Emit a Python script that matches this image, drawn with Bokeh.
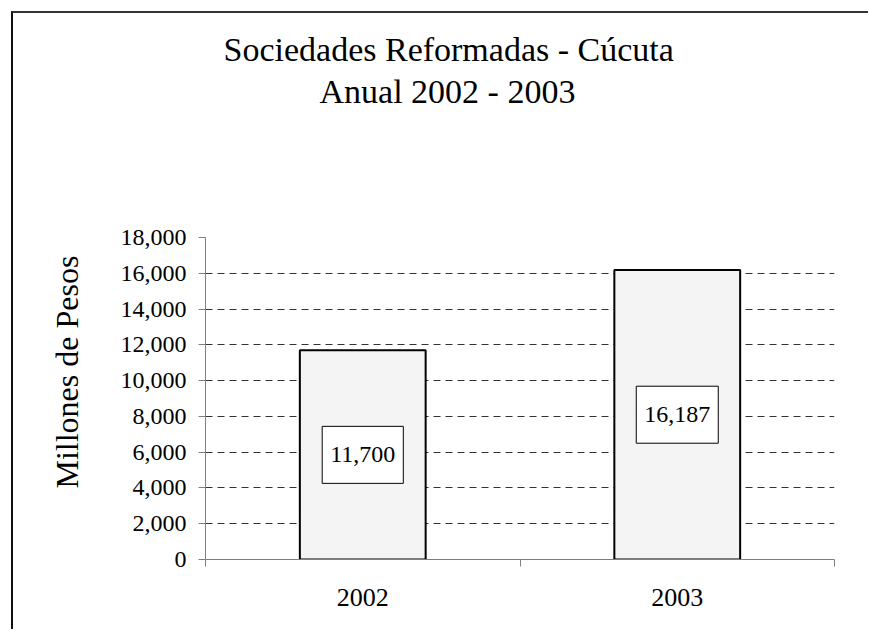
from bokeh.plotting import figure
from bokeh.models import Range1d, FixedTicker, NumeralTickFormatter, Label, LinearAxis, Grid, Title
from bokeh.embed import file_html
from bokeh.resources import INLINE

# ---- data ----
years = ["2002", "2003"]
values = [11700, 16187]
y_ticks = [0, 2000, 4000, 6000, 8000, 10000, 12000, 14000, 16000, 18000]
title_lines = ["Sociedades Reformadas - Cúcuta", "Anual  2002 - 2003"]
y_title = "Millones de Pesos"

FONT = "Liberation Serif"

xs = [i + 0.5 for i in range(len(years))]

p = figure(
    output_backend="svg",
    toolbar_location=None,
    x_range=Range1d(0, len(years)),
    y_range=Range1d(y_ticks[0], y_ticks[-1]),
    frame_width=629,
    frame_height=322,
    min_border_left=192,
    min_border_right=34,
    min_border_top=224,
    min_border_bottom=70,
    x_axis_type=None,
    y_axis_type=None,
)
p.title.visible = False
p.outline_line_color = None
p.background_fill_color = "white"
p.border_fill_color = "white"
p.styles = {
    "margin-left": "11px",
    "margin-top": "11px",
    "border-left": "2px solid #111111",
    "border-top": "2px solid #333333",
}

# blank spacer between the plot frame and the two title lines
p.add_layout(Title(text=" ", text_font_size="10px", standoff=113), "above")
# titles: second line first (nearer the frame), then first line above it
p.add_layout(Title(
    text=title_lines[1], align="left", offset=114,
    text_font=FONT, text_font_size="34px", text_font_style="normal",
    text_color="black", standoff=3,
), "above")
p.add_layout(Title(
    text=title_lines[0], align="left", offset=18,
    text_font=FONT, text_font_size="34px", text_font_style="normal",
    text_color="black", standoff=3,
), "above")

# y axis
yaxis = LinearAxis(
    ticker=FixedTicker(ticks=y_ticks, minor_ticks=[]),
    formatter=NumeralTickFormatter(format="0,0"),
)
yaxis.axis_line_color = "#7f7f7f"
yaxis.major_tick_line_color = "#7f7f7f"
yaxis.major_tick_in = 0
yaxis.major_tick_out = 7
yaxis.minor_tick_line_color = None
yaxis.major_label_standoff = 12
yaxis.major_label_text_font = FONT
yaxis.major_label_text_font_size = "24px"
yaxis.major_label_text_color = "black"
p.add_layout(yaxis, "left")

# y axis title, outside the tick labels
p.add_layout(Title(
    text=y_title, align="left", offset=71,
    text_font=FONT, text_font_size="32px", text_font_style="normal",
    text_color="black", standoff=66,
), "left")

# x axis: labels at category centres, ticks at category boundaries
xaxis = LinearAxis(
    ticker=FixedTicker(ticks=xs, minor_ticks=list(range(len(years) + 1))),
    major_label_overrides={x: y for x, y in zip(xs, years)},
)
xaxis.axis_line_color = "#7f7f7f"
xaxis.major_tick_line_color = None
xaxis.minor_tick_line_color = "#7f7f7f"
xaxis.minor_tick_in = 0
xaxis.minor_tick_out = 7
xaxis.major_label_standoff = 22
xaxis.major_label_text_font = FONT
xaxis.major_label_text_font_size = "26px"
xaxis.major_label_text_color = "black"
p.add_layout(xaxis, "below")

# grid (dashed, above zero)
p.add_layout(Grid(
    dimension=1, ticker=FixedTicker(ticks=y_ticks[1:]),
    grid_line_color="#333333", grid_line_dash="7 5", grid_line_width=1,
))

# bars
p.vbar(x=xs, top=values, width=0.4, bottom=0,
       fill_color="#f4f4f4", line_color="black", line_width=2)

# data labels
for x, v in zip(xs, values):
    p.add_layout(Label(
        x=x, y=v / 2, text=f"{v:,}",
        text_font=FONT, text_font_size="24px", text_color="black",
        text_align="center", text_baseline="middle",
        background_fill_color="white",
        border_line_color="black", border_line_width=1,
        padding=dict(left=8, right=8, top=21, bottom=21),
    ))

open("out.html", "w").write(file_html(p, INLINE))
